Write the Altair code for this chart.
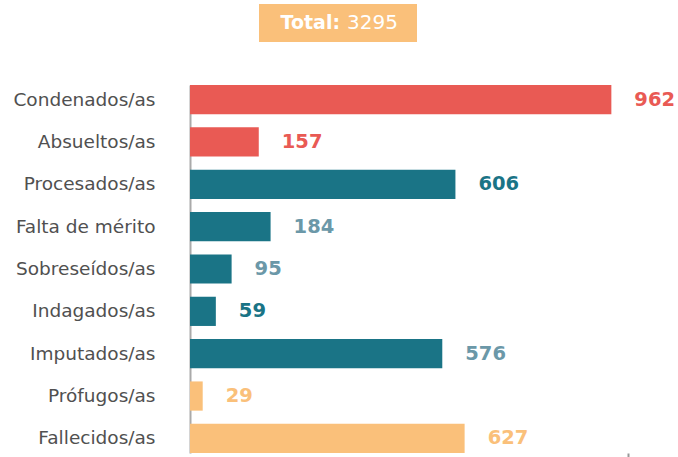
import altair as alt
import pandas as pd

categories = ["Condenados/as", "Absueltos/as", "Procesados/as", "Falta de mérito",
              "Sobreseídos/as", "Indagados/as", "Imputados/as", "Prófugos/as", "Fallecidos/as"]
values = [962, 157, 606, 184, 95, 59, 576, 29, 627]
bar_colors = ["#E95A54", "#E95A54", "#1A7486", "#1A7486", "#1A7486", "#1A7486", "#1A7486", "#FAC07A", "#FAC07A"]
label_colors = ["#E95A54", "#E95A54", "#1A7486", "#6B98A8", "#6B98A8", "#1A7486", "#6B98A8", "#FAC07A", "#FAC07A"]
total_label = "Total:"
total_value = 3295

df = pd.DataFrame({"cat": categories, "val": values, "bc": bar_colors, "lc": label_colors})
tdf = pd.DataFrame({"t": [total_label], "v": [str(total_value)]})

FONT = "DejaVu Sans"

y_enc = alt.Y("cat:N", sort=None, title=None,
              scale=alt.Scale(paddingInner=0.31, paddingOuter=0),
              axis=alt.Axis(ticks=False, labelPadding=35, labelFontSize=18.5, labelFont=FONT,
                            labelColor="#505050", domainColor="#AAAAAA", domainWidth=2))
x_enc = alt.X("val:Q", title=None, scale=alt.Scale(domain=[0, 1000], nice=False),
              axis=alt.Axis(values=[1000], labels=False, domain=False, grid=False,
                            tickSize=6, tickColor="#999999", tickWidth=2))

bars = alt.Chart(df).mark_bar().encode(
    x=x_enc, y=y_enc, color=alt.Color("bc:N", scale=None)
)
labels = alt.Chart(df).mark_text(align="left", baseline="middle", dx=23, font=FONT,
                                 fontWeight="bold", fontSize=19.5).encode(
    x="val:Q", y=alt.Y("cat:N", sort=None), text="val:Q", color=alt.Color("lc:N", scale=None)
)

box = alt.Chart(tdf).mark_rect(color="#FAC07A").encode(
    x=alt.value(69), x2=alt.value(227), y=alt.value(-81), y2=alt.value(-43)
)
t1 = alt.Chart(tdf).mark_text(align="right", baseline="middle", font=FONT, fontWeight="bold",
                              fontSize=19, color="white").encode(
    x=alt.value(150), y=alt.value(-62), text="t:N"
)
t2 = alt.Chart(tdf).mark_text(align="left", baseline="middle", font=FONT, fontWeight="normal",
                              fontSize=20, color="white").encode(
    x=alt.value(157), y=alt.value(-62), text="v:N"
)

chart = alt.layer(bars, labels, box, t1, t2).properties(
    width=438, height=368,
    autosize=alt.AutoSizeParams(type="none"),
    padding={"left": 190, "top": 85, "right": 50, "bottom": 4},
).configure(background="white").configure_view(stroke=None, strokeWidth=0)

chart.save("out.html", embed_options={"renderer": "svg", "actions": False})
